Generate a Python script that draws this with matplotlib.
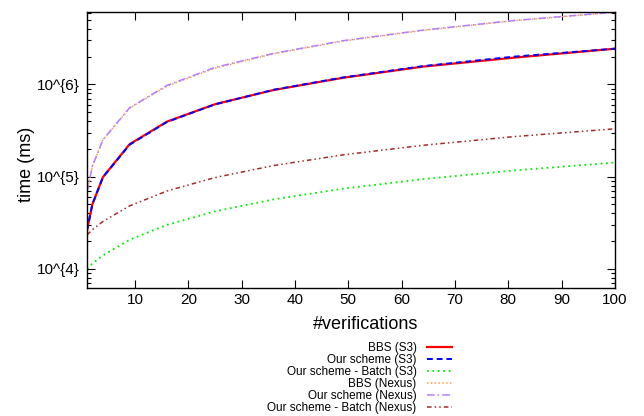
import matplotlib
matplotlib.use("Agg")
import matplotlib.pyplot as plt
from matplotlib.ticker import LogLocator, FixedLocator, NullFormatter

plt.rcParams["font.family"] = ["Liberation Sans", "DejaVu Sans"]

# ── Data ──────────────────────────────────────────────────────────────────────

verifications = [1, 2, 4, 9, 16, 25, 36, 49, 64, 81, 100]

bbs_s3         = [26000, 50000, 99000, 225000, 395000, 610000, 870000,
                  1180000, 1560000, 1950000, 2440000]
ours_s3        = [26000, 50000, 99000, 222000, 392000, 608000, 875000,
                  1190000, 1580000, 2000000, 2440000]
ours_batch_s3  = [10000, 11400, 14000, 20700, 30000, 42000, 56700,
                  74000, 94000, 116700, 142000]
bbs_nexus      = [68000, 130000, 250000, 555000, 960000, 1500000, 2150000,
                  2950000, 3850000, 4900000, 6050000]
ours_nexus     = [67000, 129000, 252000, 558000, 975000, 1530000, 2170000,
                  2980000, 3880000, 4930000, 6080000]
ours_batch_nex = [23400, 26500, 32700, 48200, 69900, 97800, 131900,
                  172200, 218700, 271400, 330300]

labels = ["BBS (S3)", "Our scheme (S3)", "Our scheme - Batch (S3)",
          "BBS (Nexus)", "Our scheme (Nexus)", "Our scheme - Batch (Nexus)"]

# ── Figure ────────────────────────────────────────────────────────────────────

fig = plt.figure(figsize=(6.44, 4.16), dpi=100)
ax = fig.add_axes([87 / 644, 1 - 288 / 416, (615 - 87) / 644, (288 - 12) / 416])

ax.plot(verifications, bbs_s3, color="#ff0000", lw=1.6, ls="-", label=labels[0])
ax.plot(verifications, ours_s3, color="#0000ff", lw=1.4, ls=(0, (3, 2)), label=labels[1])
ax.plot(verifications, ours_batch_s3, color="#00ee00", lw=1.3, ls=(0, (1, 2)), label=labels[2])
ax.plot(verifications, bbs_nexus, color="#ffa040", lw=1.1, ls=(0, (1, 1.5)), label=labels[3])
ax.plot(verifications, ours_nexus, color="#b380ff", lw=1.1, ls=(0, (5, 2, 1, 2)), label=labels[4])
ax.plot(verifications, ours_batch_nex, color="#a52a2a", lw=1.1, ls=(0, (3, 2, 1, 2, 1, 2)), label=labels[5])

ax.set_yscale("log")
ax.set_xlim(1, 100)
ax.set_ylim(6200, 6.1e6)

ax.xaxis.set_major_locator(FixedLocator(range(10, 101, 10)))
ax.yaxis.set_major_locator(FixedLocator([1e4, 1e5, 1e6]))
ax.set_yticklabels(["10^{4}", "10^{5}", "10^{6}"])
ax.yaxis.set_minor_locator(LogLocator(base=10, subs=range(2, 10)))
ax.yaxis.set_minor_formatter(NullFormatter())

ax.tick_params(which="both", direction="in", top=True, right=True,
               labelsize=11, width=0.8)
ax.tick_params(which="major", length=6)
ax.tick_params(which="minor", length=3)
ax.tick_params(axis="y", pad=5)
for spine in ax.spines.values():
    spine.set_linewidth(1.0)

ax.set_xlabel("#verifications", fontsize=13)
ax.xaxis.set_label_coords((365.5 - 87) / 528, (288 - 316) / 276)
ax.set_ylabel("time (ms)", fontsize=13)
ax.yaxis.set_label_coords((35 - 87) / 528, (288 - 164.5) / 276)

fig.legend(loc="upper right", bbox_to_anchor=(452 / 644, 1 - 342 / 416),
           frameon=False, markerfirst=False, fontsize=8.5,
           handlelength=2.1, handletextpad=0.9, labelspacing=0.0,
           borderpad=0, borderaxespad=0)

fig.savefig("out.png", dpi=100)
